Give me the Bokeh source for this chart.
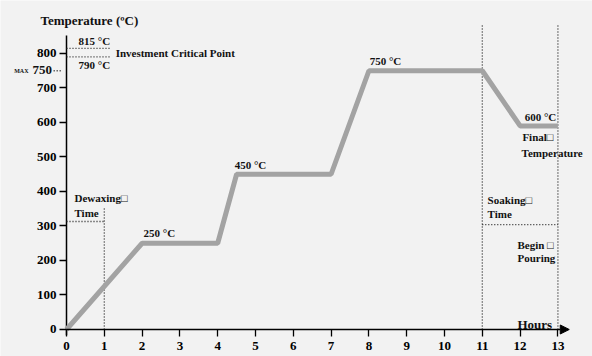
from bokeh.plotting import figure
from bokeh.models import Label, Arrow, NormalHead, Range1d, FixedTicker
from bokeh.embed import file_html
from bokeh.resources import INLINE

# ---- data ----
hours = [0, 2, 4, 4.5, 7, 8, 11, 12, 13]
temps = [0, 250, 250, 450, 450, 750, 750, 590, 590]
x_ticks = list(range(0, 14))
y_ticks = list(range(0, 900, 100))

critical_low, critical_high = 790, 815
max_temp = 750
dewax_time, dewax_temp = 1, 313
soak_start, pour_time, soak_temp = 11, 13, 304

FONT = "Liberation Serif"
BG = "#f2f2f2"

p = figure(width=592, height=356, output_backend="svg", toolbar_location=None,
           x_range=Range1d(-1.746, 13.915), y_range=Range1d(-78.3, 953.6),
           min_border_left=0, min_border_right=0, min_border_top=0, min_border_bottom=0)
p.background_fill_color = BG
p.border_fill_color = BG
p.outline_line_color = None
p.grid.visible = False

for ax, ticks in ((p.xaxis[0], x_ticks), (p.yaxis[0], [t for t in y_ticks if t <= 800])):
    ax.fixed_location = 0
    ax.ticker = FixedTicker(ticks=ticks)
    ax.axis_line_color = None
    ax.major_tick_in = 0
    ax.major_tick_out = 7
    ax.major_tick_line_width = 1.3
    ax.major_tick_line_color = "black"
    ax.minor_tick_line_color = None
    ax.major_label_text_font = FONT
    ax.major_label_text_font_style = "bold"
    ax.major_label_text_font_size = "13px"
    ax.major_label_text_color = "black"
    ax.major_label_standoff = 3
p.xaxis[0].major_label_standoff = 6

# axis lines
p.segment(x0=[0], y0=[-17], x1=[0], y1=[852], line_color="black", line_width=1.5)
p.add_layout(Arrow(x_start=0, y_start=0, x_end=13.3, y_end=0, line_color="black", line_width=1.5,
                   end=NormalHead(size=9, fill_color="black", line_color="black")))

# dotted guide lines
dot = dict(line_color="#222222", line_width=1.3, line_dash="1 2")
p.segment(x0=[0, 0], y0=[critical_high, critical_low], x1=[1.17, 1.17], y1=[critical_high, critical_low], **dot)
p.segment(x0=[dewax_time, 0], y0=[0, dewax_temp], x1=[dewax_time, dewax_time], y1=[354, dewax_temp], **dot)
p.segment(x0=[soak_start, pour_time, soak_start], y0=[0, 0, soak_temp],
          x1=[soak_start, pour_time, pour_time], y1=[881, 881, soak_temp], **dot)
p.segment(x0=[-0.34], y0=[max_temp], x1=[-0.13], y1=[max_temp], **dot)

# main curve
p.line(hours, temps, line_color="#a3a3a3", line_width=5)

def lab(x, y, t, size="11px", align="left"):
    p.add_layout(Label(x=x, y=y, text=t, text_font=FONT, text_font_style="bold",
                       text_font_size=size, text_color="#111111", text_align=align,
                       text_baseline="middle"))

lab(-0.69, 896, "Temperature (ºC)", "13px")
lab(0.32, 835, "815 °C")
lab(0.32, 768, "790 °C")
lab(1.30, 800, "Investment Critical Point")
lab(-0.90, 751, "750", "13px")
lab(-1.005, 749, "MAX", "6px", "right")
lab(0.21, 380, "Dewaxing□")
lab(0.21, 339, "Time")
lab(2.04, 281, "250 °C")
lab(4.45, 478, "450 °C")
lab(8.02, 777, "750 °C")
lab(12.12, 615, "600 °C")
lab(12.06, 557, "Final□")
lab(12.04, 513, "Temperature")
lab(11.14, 374, "Soaking□")
lab(11.14, 336, "Time")
lab(11.93, 246, "Begin □")
lab(11.93, 206, "Pouring")
lab(11.93, 14, "Hours", "13px")

open("out.html", "w").write(file_html(p, INLINE))
